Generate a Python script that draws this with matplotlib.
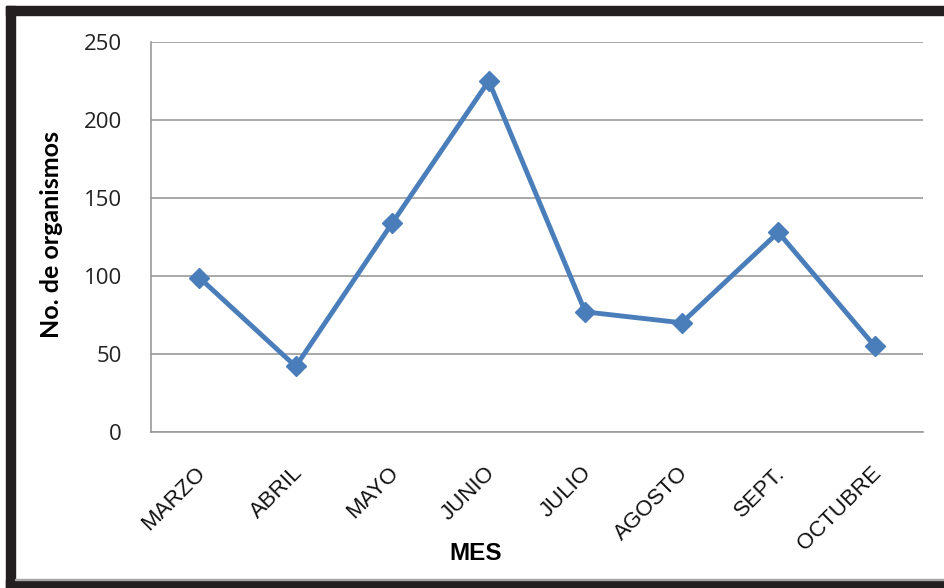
import matplotlib
matplotlib.use("Agg")
import matplotlib.pyplot as plt
from matplotlib.patches import Rectangle
from matplotlib.transforms import ScaledTranslation

meses = ["MARZO", "ABRIL", "MAYO", "JUNIO", "JULIO", "AGOSTO", "SEPT.", "OCTUBRE"]
organismos = [99, 42, 134, 225, 77, 70, 128, 55]
y_ticks = [0, 50, 100, 150, 200, 250]

W, H = 944, 588
fig = plt.figure(figsize=(W / 100, H / 100), dpi=100)
fig.patch.set_facecolor("white")

# Thick dark frame (top, left, bottom) around the chart area
frame = "#231f20"
fig.add_artist(Rectangle((6 / W, 1 - 15 / H), 1 - 6 / W, 9 / H,
                         transform=fig.transFigure, color=frame, zorder=0))
fig.add_artist(Rectangle((6 / W, 0), 9 / W, 1 - 6 / H,
                         transform=fig.transFigure, color=frame, zorder=0))
fig.add_artist(Rectangle((6 / W, 0), 1 - 6 / W, 8 / H,
                         transform=fig.transFigure, color=frame, zorder=0))
fig.add_artist(Rectangle((15 / W, 8 / H), 1 - 15 / W, 1.2 / H,
                         transform=fig.transFigure, color="#a6a6a6", zorder=0))

left, right, top, bottom = 151, 923, 42, 432
ax = fig.add_axes([left / W, 1 - bottom / H, (right - left) / W, (bottom - top) / H])

x = [i + 0.5 for i in range(len(meses))]
ax.plot(x, organismos, color="#4a7ebb", linewidth=3.5, marker="D",
        markersize=10.5, markerfacecolor="#4a7ebb", markeredgecolor="#4a7ebb",
        zorder=3, clip_on=False)

ax.set_xlim(0, len(meses))
ax.set_ylim(0, 250)
ax.set_yticks(y_ticks)
ax.set_yticklabels([str(v) for v in y_ticks], fontfamily="Open Sans", fontsize=16,
                   color="#222222")
ax.set_xticks(x)
ax.set_xticklabels(meses, rotation=45, ha="right", rotation_mode="anchor",
                   fontfamily="Liberation Sans", fontsize=16, color="#111111")
ax.tick_params(axis="y", length=0, pad=21)
ax.tick_params(axis="x", length=0, pad=22)
shift = ScaledTranslation(-4 / 100, 0, fig.dpi_scale_trans)
for lbl in ax.get_xticklabels():
    lbl.set_transform(lbl.get_transform() + shift)

ax.grid(axis="y", color="#9a9a9a", linewidth=1.2)
ax.set_axisbelow(True)
for side in ("top", "right"):
    ax.spines[side].set_visible(False)
ax.spines["left"].set_color("#9a9a9a")
ax.spines["bottom"].set_color("#9a9a9a")
ax.spines["left"].set_linewidth(1.2)
ax.spines["bottom"].set_linewidth(1.2)

fig.text(476 / W, 1 - 553 / H, "MES", ha="center", va="center",
         fontfamily="Liberation Sans", fontweight="bold", fontsize=17.5)
fig.text(52 / W, 1 - 234 / H, "No. de organismos", ha="center", va="center",
         rotation=90, fontfamily="Lato", fontweight="bold", fontsize=18)

fig.savefig("out.png", dpi=100, facecolor="white")
